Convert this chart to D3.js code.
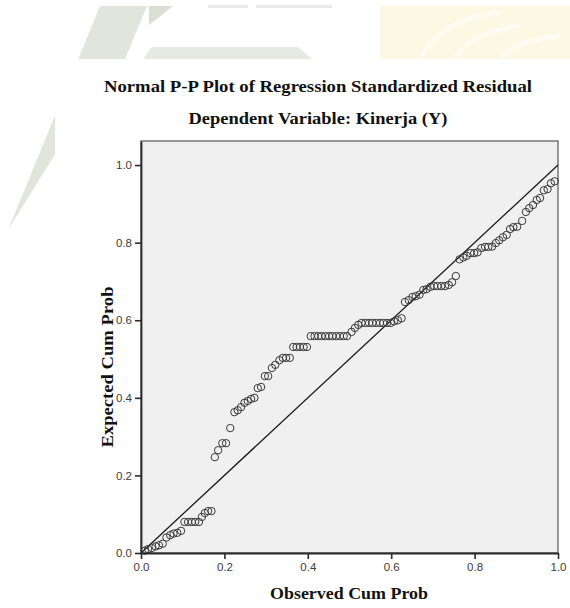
<!DOCTYPE html>
<html>
<head>
<meta charset="utf-8">
<script src="https://cdn.jsdelivr.net/npm/d3@7"></script>
<style>
  html, body { margin: 0; padding: 0; background: #fff; }
  svg { display: block; }
</style>
</head>
<body>
<div id="viz"></div>
<script>
// observed cum prob (x) and expected cum prob (y)
var observed = [
  0.009, 0.017, 0.026, 0.035, 0.043, 0.052,
  0.061, 0.070, 0.078, 0.087, 0.096,
  0.104, 0.113, 0.122, 0.130, 0.139,
  0.146, 0.153, 0.161, 0.169,
  0.177, 0.185, 0.195, 0.204, 0.214, 0.224, 0.232, 0.240, 0.248, 0.256, 0.264, 0.272,
  0.280, 0.288, 0.297, 0.305, 0.314, 0.322, 0.332, 0.340, 0.348, 0.357,
  0.365, 0.373, 0.381, 0.390, 0.398,
  0.407, 0.416, 0.425, 0.433, 0.442, 0.451, 0.459, 0.468, 0.477, 0.486, 0.494,
  0.505, 0.513, 0.521,
  0.529, 0.538, 0.547, 0.555, 0.564, 0.573, 0.581, 0.590, 0.599,
  0.607, 0.616, 0.625,
  0.633, 0.642, 0.651, 0.659, 0.668, 0.677, 0.685, 0.694, 0.703, 0.711, 0.720, 0.729, 0.738, 0.746, 0.755,
  0.764, 0.773, 0.781, 0.790, 0.799, 0.807, 0.816, 0.825, 0.833, 0.842, 0.851, 0.859, 0.868, 0.877,
  0.885, 0.893, 0.902, 0.914, 0.923, 0.931, 0.940, 0.949, 0.957, 0.966, 0.975, 0.983, 0.992
];
var expected = [
  0.006, 0.010, 0.013, 0.017, 0.020, 0.024,
  0.040, 0.046, 0.050, 0.052, 0.057,
  0.080, 0.080, 0.080, 0.080, 0.080,
  0.093, 0.103, 0.108, 0.108,
  0.247, 0.265, 0.283, 0.283, 0.322, 0.363, 0.368, 0.376, 0.387, 0.392, 0.397, 0.400,
  0.425, 0.428, 0.456, 0.456, 0.477, 0.485, 0.497, 0.503, 0.503, 0.503,
  0.531, 0.531, 0.531, 0.531, 0.531,
  0.559, 0.559, 0.559, 0.559, 0.559, 0.559, 0.559, 0.559, 0.559, 0.559, 0.559,
  0.570, 0.580, 0.588,
  0.593, 0.593, 0.593, 0.593, 0.593, 0.593, 0.593, 0.593, 0.593,
  0.597, 0.600, 0.605,
  0.647, 0.652, 0.660, 0.662, 0.666, 0.678, 0.680, 0.686, 0.688, 0.688, 0.688, 0.688, 0.691, 0.698, 0.714,
  0.757, 0.762, 0.766, 0.773, 0.773, 0.775, 0.786, 0.789, 0.789, 0.790, 0.799, 0.806, 0.814, 0.820,
  0.835, 0.840, 0.841, 0.856, 0.879, 0.889, 0.897, 0.910, 0.915, 0.935, 0.938, 0.953, 0.958
];
var tickValues = [0, 0.2, 0.4, 0.6, 0.8, 1.0];
var refLine = [0, 1];

var titleText = 'Normal P-P Plot of Regression Standardized Residual';
var subtitleText = 'Dependent Variable: Kinerja (Y)';
var xTitle = 'Observed Cum Prob';
var yTitle = 'Expected Cum Prob';

var width = 570, height = 608;
var serif = '"Liberation Serif", "DejaVu Serif", serif';
var sans = '"Liberation Sans", Arial, sans-serif';

var svg = d3.select('#viz').append('svg')
  .attr('width', width).attr('height', height);

// faint watermark behind the chart card
function drawWatermark() {
  var wm = svg.append('g');
  wm.append('rect').attr('x', 380).attr('y', 6).attr('width', 190).attr('height', 53)
    .attr('fill', '#fcf8e3');
  wm.append('path').attr('d', 'M420,59 Q440,20 500,12 M455,59 Q470,32 520,26 M500,59 Q515,40 560,36')
    .attr('fill', 'none').attr('stroke', '#fefcf2').attr('stroke-width', 5);
  wm.append('polygon').attr('points', '100,6 147,6 125,59 62,143 8,230')
    .attr('fill', '#e2e5db');
  wm.append('polygon').attr('points', '149,6 173,6 149,25')
    .attr('fill', '#dadfd3');
  wm.append('polygon').attr('points', '152,47 298,47 312,59 143,59')
    .attr('fill', '#e7e9e3');
  wm.append('rect').attr('x', 208).attr('y', 5).attr('width', 40).attr('height', 3).attr('fill', '#ebebeb');
  wm.append('rect').attr('x', 256).attr('y', 5).attr('width', 76).attr('height', 3).attr('fill', '#ebebeb');
  // white card with the chart
  wm.append('rect').attr('x', 55).attr('y', 59).attr('width', width - 55).attr('height', height - 59)
    .attr('fill', '#fff');
}
drawWatermark();

var x = d3.scaleLinear().domain([0, 1]).range([141, 558]);
var y = d3.scaleLinear().domain([0, 1.062]).range([553, 141]);

// plot background frame
svg.append('rect')
  .attr('x', x(0)).attr('y', y(1.062))
  .attr('width', x(1) - x(0)).attr('height', y(0) - y(1.062))
  .attr('fill', '#f0f0f0').attr('stroke', '#555').attr('stroke-width', 1.2);

// reference diagonal
svg.append('line')
  .attr('x1', x(refLine[0])).attr('y1', y(refLine[0]))
  .attr('x2', x(refLine[1])).attr('y2', y(refLine[1]))
  .attr('stroke', '#1a1a1a').attr('stroke-width', 1.3);

var pts = observed.map(function(d, i) { return { x: d, y: expected[i] }; });
svg.append('g').selectAll('circle').data(pts).enter().append('circle')
  .attr('cx', function(d) { return x(d.x); })
  .attr('cy', function(d) { return y(d.y); })
  .attr('r', 3.7)
  .attr('fill', 'none')
  .attr('stroke', '#3a3a3a')
  .attr('stroke-width', 1);

var fmt = d3.format('.1f');
var xAxis = svg.append('g').attr('transform', 'translate(0,' + y(0) + ')')
  .call(d3.axisBottom(x).tickValues(tickValues).tickFormat(fmt).tickSizeInner(6).tickSizeOuter(0).tickPadding(4));
var yAxis = svg.append('g').attr('transform', 'translate(' + x(0) + ',0)')
  .call(d3.axisLeft(y).tickValues(tickValues).tickFormat(fmt).tickSizeInner(6).tickSizeOuter(0).tickPadding(3));

[xAxis, yAxis].forEach(function(ax) {
  ax.select('.domain').attr('stroke', '#2a2a2a').attr('stroke-width', 1.8);
  ax.selectAll('.tick line').attr('stroke', '#2a2a2a').attr('stroke-width', 1.6);
  ax.selectAll('.tick text').attr('fill', '#3c3c3c')
    .style('font-family', sans).style('font-size', '11.5px');
});

// titles
svg.append('text').text(titleText)
  .attr('x', 318).attr('y', 92).attr('text-anchor', 'middle')
  .attr('textLength', 428).attr('lengthAdjust', 'spacingAndGlyphs')
  .style('font-family', serif).style('font-weight', 'bold').style('font-size', '16.5px')
  .attr('fill', '#111');
svg.append('text').text(subtitleText)
  .attr('x', 318).attr('y', 124).attr('text-anchor', 'middle')
  .attr('textLength', 259).attr('lengthAdjust', 'spacingAndGlyphs')
  .style('font-family', serif).style('font-weight', 'bold').style('font-size', '16.5px')
  .attr('fill', '#111');
svg.append('text').text(xTitle)
  .attr('x', 349).attr('y', 599).attr('text-anchor', 'middle')
  .attr('textLength', 158).attr('lengthAdjust', 'spacingAndGlyphs')
  .style('font-family', serif).style('font-weight', 'bold').style('font-size', '16.5px')
  .attr('fill', '#111');
svg.append('text').text(yTitle)
  .attr('transform', 'translate(113,367) rotate(-90)')
  .attr('text-anchor', 'middle')
  .attr('textLength', 161).attr('lengthAdjust', 'spacingAndGlyphs')
  .style('font-family', serif).style('font-weight', 'bold').style('font-size', '16.5px')
  .attr('fill', '#111');
</script>
</body>
</html>
